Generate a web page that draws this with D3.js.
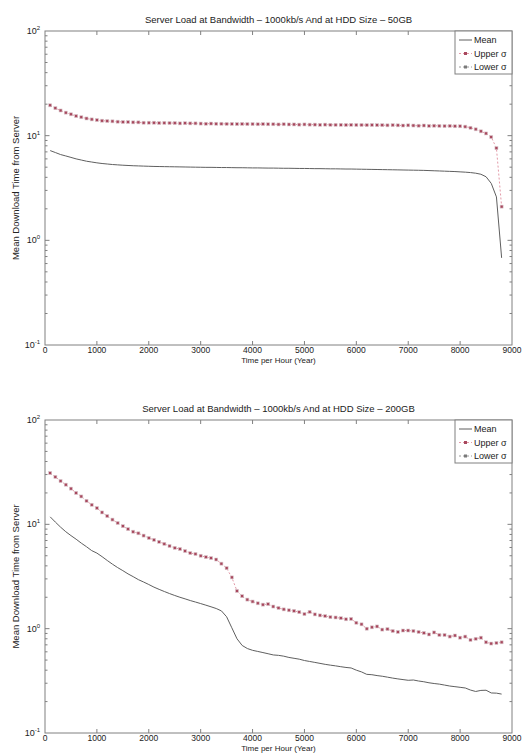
<!DOCTYPE html>
<html>
<head>
<meta charset="utf-8">
<script src="https://cdn.jsdelivr.net/npm/d3@7"></script>
<style>
  html, body { margin: 0; padding: 0; background: #fff; }
  svg { display: block; font-family: "Liberation Sans", Arial, sans-serif; }
</style>
</head>
<body>
<svg id="sketchbook" width="526" height="753"></svg>
<script>
// sample grid (hours), one point every 100 h
const hours = d3.range(100, 8900, 100);

const xTicks = [0, 1000, 2000, 3000, 4000, 5000, 6000, 7000, 8000, 9000];
const yDecades = [-1, 0, 1, 2];

const titles = [
    "Server Load at Bandwidth \u2013 1000kb/s And at HDD Size \u2013 50GB",
    "Server Load at Bandwidth \u2013 1000kb/s And at HDD Size \u2013 200GB"
];
const legendLabels = ["Mean", "Upper \u03c3", "Lower \u03c3"];

// 50GB panel
const mean50 = [
    7.2, 6.9, 6.6, 6.4, 6.2, 6.0, 5.85, 5.7, 5.6, 5.5,
    5.42, 5.36, 5.3, 5.26, 5.22, 5.19, 5.16, 5.14, 5.12, 5.1,
    5.08, 5.07, 5.06, 5.05, 5.04, 5.03, 5.02, 5.01, 5.0, 4.99,
    4.98, 4.98, 4.97, 4.96, 4.96, 4.95, 4.94, 4.94, 4.93, 4.92,
    4.92, 4.91, 4.9, 4.9, 4.89, 4.88, 4.88, 4.87, 4.86, 4.86,
    4.85, 4.84, 4.84, 4.83, 4.82, 4.82, 4.81, 4.8, 4.8, 4.79,
    4.78, 4.77, 4.76, 4.75, 4.74, 4.73, 4.72, 4.71, 4.7, 4.69,
    4.68, 4.67, 4.66, 4.64, 4.62, 4.6, 4.58, 4.56, 4.54, 4.51,
    4.48, 4.44, 4.38, 4.28, 4.05, 3.5, 2.6, 0.68
];
const upper50 = [
    19.5, 18.3, 17.4, 16.6, 16.0, 15.4, 15.0, 14.6, 14.3, 14.1,
    13.9, 13.8, 13.7, 13.6, 13.5, 13.5, 13.4, 13.4, 13.3, 13.3,
    13.3, 13.2, 13.25, 13.2, 13.2, 13.1, 13.15, 13.1, 13.1, 13.05,
    13.0, 13.05, 13.0, 13.0, 12.95, 12.95, 12.9, 12.95, 12.9, 12.9,
    12.85, 12.9, 12.85, 12.85, 12.8, 12.85, 12.8, 12.8, 12.75, 12.8,
    12.75, 12.75, 12.7, 12.75, 12.7, 12.7, 12.7, 12.65, 12.7, 12.65,
    12.65, 12.6, 12.65, 12.6, 12.6, 12.55, 12.6, 12.55, 12.5, 12.55,
    12.5, 12.45, 12.5, 12.4, 12.45, 12.4, 12.35, 12.4, 12.3, 12.3,
    12.2, 11.9, 11.5, 11.0, 10.5, 9.7, 7.6, 2.1
];

// 200GB panel
const mean200 = [
    11.8, 10.5, 9.4, 8.5, 7.8, 7.2, 6.6, 6.1, 5.6, 5.3,
    4.9, 4.5, 4.15, 3.85, 3.6, 3.35, 3.15, 2.95, 2.8, 2.65,
    2.5, 2.38, 2.27, 2.17, 2.08, 2.0, 1.93, 1.86, 1.8, 1.74,
    1.68, 1.62, 1.56, 1.48, 1.3, 1.02, 0.8, 0.69, 0.645, 0.62,
    0.605, 0.59, 0.575, 0.56, 0.555, 0.545, 0.53, 0.52, 0.51, 0.495,
    0.485, 0.475, 0.465, 0.455, 0.447, 0.44, 0.432, 0.425, 0.42, 0.4,
    0.385, 0.365, 0.362, 0.355, 0.35, 0.343, 0.336, 0.33, 0.325, 0.32,
    0.322, 0.315, 0.31, 0.303, 0.298, 0.294, 0.288, 0.282, 0.278, 0.274,
    0.27, 0.258, 0.25, 0.256, 0.257, 0.242, 0.241, 0.236
];
const upper200 = [
    31, 28.5, 26, 24, 22, 20, 18.5, 16.8, 15.4, 14.3,
    13.0, 12.0, 11.1, 10.3, 9.6, 9.0, 8.5, 8.2, 7.8, 7.4,
    7.1, 6.8, 6.5, 6.2, 5.95, 5.8, 5.55, 5.3, 5.2, 5.0,
    4.85, 4.75, 4.6, 4.2, 3.8, 3.1, 2.3, 2.05, 1.9, 1.82,
    1.75, 1.7, 1.72, 1.63, 1.58, 1.53, 1.5, 1.48, 1.44, 1.38,
    1.45, 1.37, 1.34, 1.32, 1.29, 1.28, 1.26, 1.23, 1.24, 1.14,
    1.1, 1.0, 1.03, 1.05, 0.98, 0.99, 0.95, 0.93, 0.96, 0.96,
    0.95, 0.93, 0.91, 0.88, 0.92, 0.87, 0.87, 0.84, 0.86, 0.82,
    0.84, 0.78, 0.8, 0.82, 0.74, 0.72, 0.73, 0.74
];

const svg = d3.select("#sketchbook");

const panels = [
    { top: 31,  bottom: 345, title: titles[0], mean: mean50,  upper: upper50 },
    { top: 420, bottom: 733, title: titles[1], mean: mean200, upper: upper200 }
];

const left = 45, right = 512;
const axisColor = "#808080";
const textColor = "#222";
const meanColor = "#5f5f5f";
const upperLine = "#e39aa8";
const upperMark = "#a8485e";
const lowerColor = "#9a9a9a";

function drawPanel(p) {
    let g = svg.append("g");

    let x = d3.scaleLinear().domain([0, 9000]).range([left, right]);
    let y = d3.scaleLog().domain([0.1, 100]).range([p.bottom, p.top]);

    // box
    g.append("rect")
        .attr("x", left).attr("y", p.top)
        .attr("width", right - left).attr("height", p.bottom - p.top)
        .attr("fill", "none")
        .attr("stroke", axisColor)
        .attr("stroke-width", 1);

    // x ticks, inward on both sides
    let xt = xTicks.slice(1, -1);
    g.selectAll("line.xtb").data(xt).enter().append("line")
        .attr("x1", d => x(d)).attr("x2", d => x(d))
        .attr("y1", p.bottom).attr("y2", p.bottom - 4)
        .attr("stroke", axisColor);
    g.selectAll("line.xtt").data(xt).enter().append("line")
        .attr("x1", d => x(d)).attr("x2", d => x(d))
        .attr("y1", p.top).attr("y2", p.top + 4)
        .attr("stroke", axisColor);

    g.selectAll("text.xl").data(xTicks).enter().append("text")
        .attr("x", d => x(d))
        .attr("y", p.bottom + 8.2)
        .attr("text-anchor", "middle")
        .attr("font-size", 8.5)
        .attr("fill", textColor)
        .text(d => d);

    g.append("text")
        .attr("x", (left + right) / 2)
        .attr("y", p.bottom + 17.8)
        .attr("text-anchor", "middle")
        .attr("font-size", 8)
        .attr("fill", textColor)
        .text("Time per Hour (Year)");

    // y minor ticks on both sides
    let minor = [];
    yDecades.slice(0, -1).forEach(e => {
        for (let m = 2; m <= 9; m++) minor.push(m * Math.pow(10, e));
    });
    [left, right].forEach(xx => {
        let dir = xx === left ? 1 : -1;
        g.selectAll(null).data(minor).enter().append("line")
            .attr("x1", xx).attr("x2", xx + dir * 2.5)
            .attr("y1", d => y(d)).attr("y2", d => y(d))
            .attr("stroke", axisColor);
        g.selectAll(null).data([1, 10]).enter().append("line")
            .attr("x1", xx).attr("x2", xx + dir * 4.5)
            .attr("y1", d => y(d)).attr("y2", d => y(d))
            .attr("stroke", axisColor);
    });

    let yl = g.selectAll("text.yl").data(yDecades).enter().append("text")
        .attr("x", left - 5)
        .attr("y", d => y(Math.pow(10, d)) + 3)
        .attr("text-anchor", "end")
        .attr("font-size", 9)
        .attr("fill", textColor);
    yl.append("tspan").text("10");
    yl.append("tspan")
        .attr("dy", -4)
        .attr("font-size", 6)
        .text(d => d);

    g.append("text")
        .attr("transform", "translate(19," + ((p.top + p.bottom) / 2) + ") rotate(-90)")
        .attr("text-anchor", "middle")
        .attr("font-size", 9.5)
        .attr("fill", textColor)
        .text("Mean Download Time from Server");

    g.append("text")
        .attr("x", (left + right) / 2)
        .attr("y", p.top - 8)
        .attr("text-anchor", "middle")
        .attr("font-size", 9.5)
        .attr("fill", textColor)
        .text(p.title);

    // series
    let line = d3.line()
        .x((d, i) => x(hours[i]))
        .y(d => y(d));

    g.append("path")
        .datum(p.mean)
        .attr("d", line)
        .attr("fill", "none")
        .attr("stroke", meanColor)
        .attr("stroke-width", 1);

    g.append("path")
        .datum(p.upper)
        .attr("d", line)
        .attr("fill", "none")
        .attr("stroke", upperLine)
        .attr("stroke-width", 1)
        .attr("stroke-dasharray", "2,2");

    g.selectAll("rect.up").data(p.upper).enter().append("rect")
        .attr("x", (d, i) => x(hours[i]) - 1.5)
        .attr("y", d => y(d) - 1.5)
        .attr("width", 3).attr("height", 3)
        .attr("fill", upperMark)
        .attr("stroke", "#d9c9cd")
        .attr("stroke-width", 0.6);

    // legend
    let lx = 455, ly = p.top, lw = right - lx, lh = 43;
    let lg = g.append("g");
    lg.append("rect")
        .attr("x", lx).attr("y", ly)
        .attr("width", lw).attr("height", lh)
        .attr("fill", "#fff")
        .attr("stroke", axisColor);

    let items = [
        { label: legendLabels[0], color: meanColor, dash: null, mark: null },
        { label: legendLabels[1], color: upperLine, dash: "2,2", mark: upperMark },
        { label: legendLabels[2], color: lowerColor, dash: "2,2", mark: "#7a7a7a" }
    ];
    items.forEach((it, i) => {
        let cy = ly + 9 + i * 13.5;
        lg.append("line")
            .attr("x1", lx + 4).attr("x2", lx + 17)
            .attr("y1", cy).attr("y2", cy)
            .attr("stroke", it.color)
            .attr("stroke-dasharray", it.dash);
        if (it.mark)
            lg.append("rect")
                .attr("x", lx + 9).attr("y", cy - 1.5)
                .attr("width", 3).attr("height", 3)
                .attr("fill", it.mark);
        lg.append("text")
            .attr("x", lx + 19).attr("y", cy + 3.3)
            .attr("font-size", 9)
            .attr("fill", textColor)
            .text(it.label);
    });
}

panels.forEach(drawPanel);
</script>
</body>
</html>
